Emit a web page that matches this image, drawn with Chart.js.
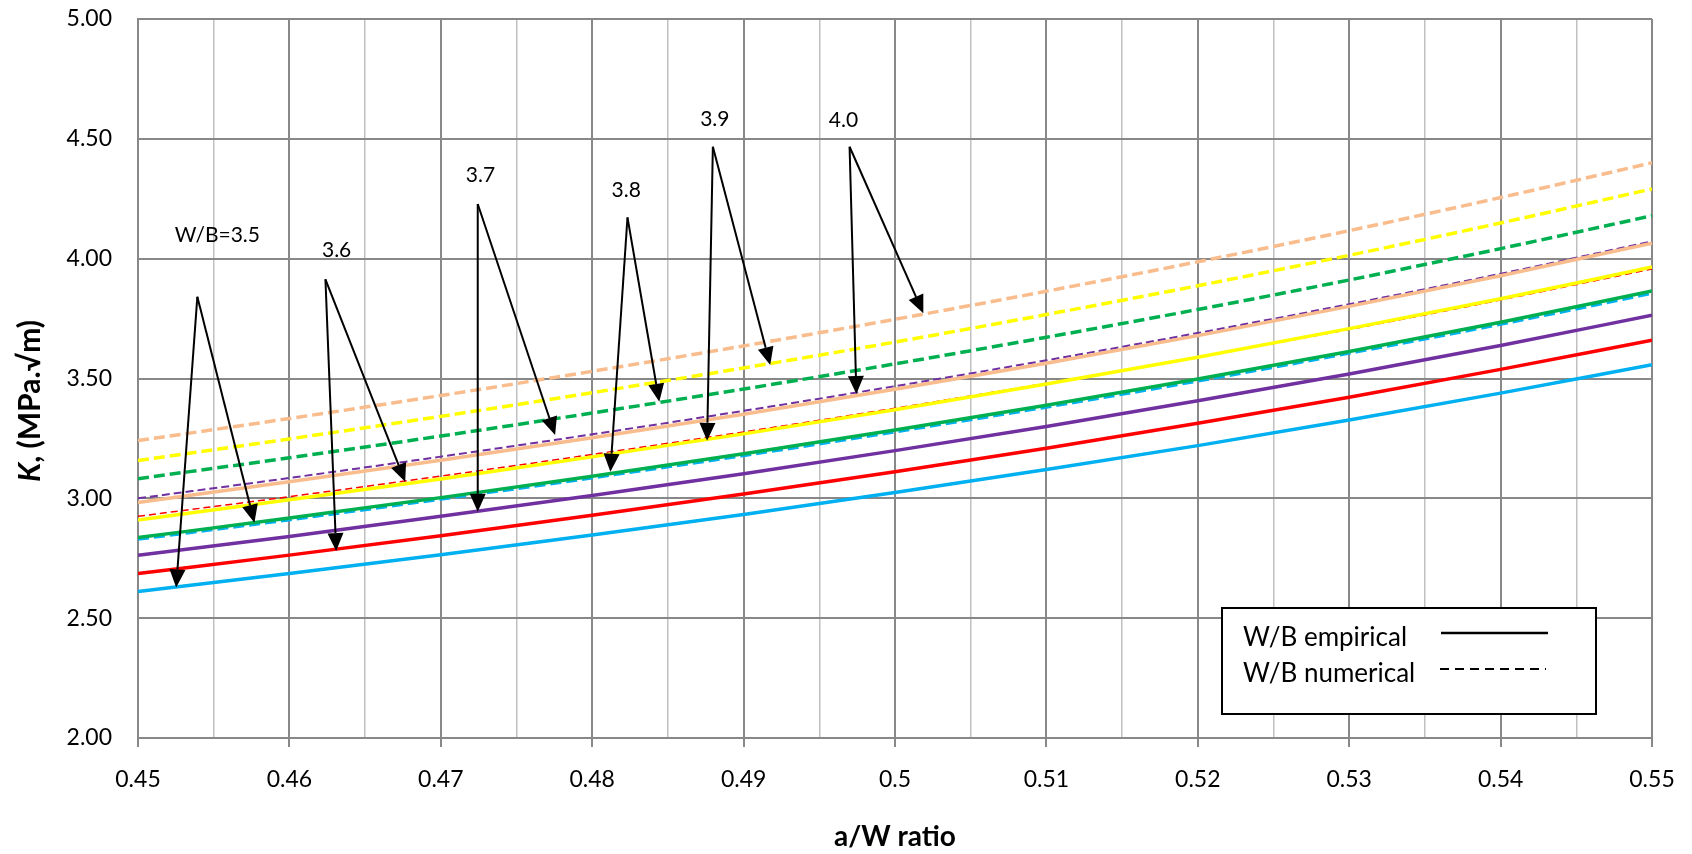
<!DOCTYPE html>
<html>
<head>
<meta charset="utf-8">
<script src="https://cdn.jsdelivr.net/npm/chart.js@4.4.1/dist/chart.umd.min.js"></script>
<style>
  html, body { margin: 0; padding: 0; background: #fff; }
  #wrap { width: 1692px; height: 854px; position: relative; }
</style>
</head>
<body>
<div id="wrap"><canvas id="kChart"></canvas></div>
<script>
// a/W ratio (x)
const awRatio = [0.45, 0.46, 0.47, 0.48, 0.49, 0.50, 0.51, 0.52, 0.53, 0.54, 0.55];

// K, MPa.√m - empirical (solid)
const emp35 = [2.611, 2.686, 2.765, 2.847, 2.933, 3.024, 3.120, 3.220, 3.327, 3.439, 3.558];
const emp36 = [2.686, 2.763, 2.844, 2.929, 3.018, 3.111, 3.209, 3.313, 3.422, 3.538, 3.660];
const emp37 = [2.762, 2.841, 2.925, 3.012, 3.103, 3.199, 3.300, 3.407, 3.519, 3.638, 3.764];
const emp38 = [2.836, 2.918, 3.003, 3.092, 3.186, 3.285, 3.388, 3.498, 3.613, 3.735, 3.865];
const emp39 = [2.910, 2.994, 3.081, 3.173, 3.269, 3.370, 3.477, 3.589, 3.708, 3.833, 3.965];
const emp40 = [2.983, 3.069, 3.159, 3.253, 3.351, 3.455, 3.564, 3.679, 3.801, 3.929, 4.065];

// numerical (dashed)
const num35 = [2.830, 2.911, 2.997, 3.086, 3.179, 3.278, 3.381, 3.490, 3.606, 3.727, 3.856];
const num36 = [2.925, 3.007, 3.093, 3.183, 3.277, 3.376, 3.480, 3.590, 3.705, 3.828, 3.957];
const num37 = [3.000, 3.085, 3.174, 3.267, 3.365, 3.468, 3.576, 3.690, 3.810, 3.937, 4.072];
const num38 = [3.082, 3.169, 3.260, 3.356, 3.456, 3.561, 3.672, 3.788, 3.911, 4.042, 4.179];
const num39 = [3.158, 3.248, 3.342, 3.441, 3.544, 3.652, 3.767, 3.887, 4.014, 4.149, 4.291];
const num40 = [3.241, 3.333, 3.429, 3.530, 3.636, 3.747, 3.864, 3.987, 4.117, 4.255, 4.400];

const wbRatios = ['3.5', '3.6', '3.7', '3.8', '3.9', '4.0'];

// callouts, in data units (a/W, K)
const calloutText = ['W/B=3.5', '3.6', '3.7', '3.8', '3.9', '4.0'];
const calloutTextAt = [[0.45524, 4.098], [0.46312, 4.034], [0.47262, 4.349], [0.48225, 4.284], [0.4881, 4.580], [0.4966, 4.577]];
const calloutApex = [[0.45392, 3.841], [0.46238, 3.914], [0.47244, 4.228], [0.48233, 4.172], [0.48797, 4.467], [0.4970, 4.467]];
const calloutTipEmp = [[0.45252, 2.628], [0.46309, 2.780], [0.47244, 2.944], [0.4812, 3.111], [0.48759, 3.240], [0.49745, 3.435]];
const calloutTipNum = [[0.45769, 2.898], [0.46765, 3.069], [0.47755, 3.264], [0.48443, 3.403], [0.49176, 3.556], [0.50187, 3.772]];

const colors = ['#00B0F0', '#FF0000', '#7030A0', '#00B050', '#FFFF00', '#F9BC8D'];
const numWidths = [3.5, 1.5, 2, 3.5, 3.5, 3.5];
const numDash = [[11, 5], [7, 4], [8, 4], [11, 5], [11, 5], [11, 5]];

const empSeries = [emp35, emp36, emp37, emp38, emp39, emp40];
const numSeries = [num35, num36, num37, num38, num39, num40];

function pts(arr) {
    return arr.map((v, i) => ({ x: awRatio[i], y: v }));
}

var datasets = [];
for (var i = 0; i < wbRatios.length; i++) {
    datasets.push({
        label: 'W/B=' + wbRatios[i] + ' empirical',
        data: pts(empSeries[i]),
        borderColor: colors[i],
        borderWidth: 3.5,
        pointRadius: 0,
        cubicInterpolationMode: 'monotone',
        order: 1
    });
    datasets.push({
        label: 'W/B=' + wbRatios[i] + ' numerical',
        data: pts(numSeries[i]),
        borderColor: colors[i],
        borderWidth: numWidths[i],
        borderDash: numDash[i],
        pointRadius: 0,
        cubicInterpolationMode: 'monotone',
        order: 2
    });
}

const MAJOR = '#888888';
const MINOR = '#C0C0C0';

function isMajor(v) {
    return Math.round(v * 200) % 2 === 0;
}

function arrow(ctx, x0, y0, x1, y1) {
    var a = Math.atan2(y1 - y0, x1 - x0);
    var len = 18, half = 8;
    var bx = x1 - len * Math.cos(a), by = y1 - len * Math.sin(a);
    ctx.beginPath();
    ctx.moveTo(x0, y0);
    ctx.lineTo(bx, by);
    ctx.stroke();
    ctx.beginPath();
    ctx.moveTo(x1, y1);
    ctx.lineTo(bx + half * Math.sin(a), by - half * Math.cos(a));
    ctx.lineTo(bx - half * Math.sin(a), by + half * Math.cos(a));
    ctx.closePath();
    ctx.fill();
}

const extras = {
    id: 'extras',
    afterDatasetsDraw(chart) {
        const ctx = chart.ctx, xs = chart.scales.x, ys = chart.scales.y;
        const px = p => [xs.getPixelForValue(p[0]), ys.getPixelForValue(p[1])];
        ctx.save();
        ctx.strokeStyle = '#000';
        ctx.fillStyle = '#000';
        ctx.lineWidth = 2;
        for (var i = 0; i < calloutText.length; i++) {
            var a = px(calloutApex[i]);
            var t1 = px(calloutTipEmp[i]);
            var t2 = px(calloutTipNum[i]);
            arrow(ctx, a[0], a[1], t1[0], t1[1]);
            arrow(ctx, a[0], a[1], t2[0], t2[1]);
            var tp = px(calloutTextAt[i]);
            ctx.font = '21px Lato';
            ctx.textAlign = 'center';
            ctx.textBaseline = 'middle';
            ctx.fillText(calloutText[i], tp[0], tp[1]);
        }
        ctx.restore();
    },
    afterDraw(chart) {
        const ctx = chart.ctx, area = chart.chartArea;
        ctx.save();
        ctx.fillStyle = '#000';
        // x title
        ctx.font = 'bold 28px Lato';
        ctx.textAlign = 'center';
        ctx.textBaseline = 'middle';
        ctx.fillText('a/W ratio', (area.left + area.right) / 2, 837);
        // y title, K in italic
        ctx.translate(30, 401);
        ctx.rotate(-Math.PI / 2);
        var p1 = 'K', p2 = ', (MPa.√m)';
        ctx.font = 'italic bold 30px Lato';
        var w1 = ctx.measureText(p1).width;
        ctx.font = 'bold 30px Lato';
        var w2 = ctx.measureText(p2).width;
        var sx = -(w1 + w2) / 2;
        ctx.textAlign = 'left';
        ctx.font = 'italic bold 30px Lato';
        ctx.fillText(p1, sx, 0);
        ctx.font = 'bold 30px Lato';
        ctx.fillText(p2, sx + w1, 0);
        ctx.restore();

        // legend box
        ctx.save();
        ctx.fillStyle = '#fff';
        ctx.fillRect(1222, 608, 374, 106);
        ctx.strokeStyle = '#000';
        ctx.lineWidth = 2;
        ctx.strokeRect(1222, 608, 374, 106);
        ctx.fillStyle = '#000';
        ctx.font = '26px Lato';
        ctx.textAlign = 'left';
        ctx.textBaseline = 'middle';
        ctx.fillText('W/B empirical', 1243, 638);
        ctx.fillText('W/B numerical', 1243, 674);
        ctx.lineWidth = 2.5;
        ctx.beginPath();
        ctx.moveTo(1441, 633);
        ctx.lineTo(1548, 633);
        ctx.stroke();
        ctx.lineWidth = 2;
        ctx.setLineDash([9, 6]);
        ctx.beginPath();
        ctx.moveTo(1440, 669);
        ctx.lineTo(1546, 669);
        ctx.stroke();
        ctx.restore();
    }
};

Chart.defaults.font.family = 'Lato';
Chart.defaults.color = '#000';

new Chart(document.getElementById('kChart'), {
    type: 'line',
    data: { datasets: datasets },
    options: {
        responsive: true,
        maintainAspectRatio: false,
        animation: false,
        events: [],
        layout: { padding: { top: 19, right: 40, left: 0, bottom: 0 } },
        plugins: {
            legend: { display: false },
            tooltip: { enabled: false }
        },
        scales: {
            x: {
                type: 'linear',
                min: 0.45,
                max: 0.55,
                afterFit: s => { s.height = 116; s.paddingLeft = 0; s.paddingRight = 0; },
                ticks: {
                    stepSize: 0.005,
                    autoSkip: false,
                    maxRotation: 0,
                    padding: 19,
                    font: { size: 23 },
                    callback: v => isMajor(v) ? String(Number(v.toFixed(2))) : ''
                },
                grid: {
                    color: c => isMajor(c.tick.value) ? MAJOR : MINOR,
                    tickColor: c => isMajor(c.tick.value) ? MAJOR : 'rgba(0,0,0,0)',
                    lineWidth: c => isMajor(c.tick.value) ? 2 : 1.5,
                    tickLength: 9
                },
                border: { color: MAJOR, width: 2 }
            },
            y: {
                min: 2,
                max: 5,
                afterFit: s => { s.width = 138; s.paddingTop = 0; s.paddingBottom = 0; },
                ticks: {
                    stepSize: 0.5,
                    padding: 26,
                    font: { size: 23 },
                    callback: v => v.toFixed(2)
                },
                grid: { color: MAJOR, lineWidth: 2, drawTicks: false },
                border: { color: MAJOR, width: 2 }
            }
        }
    },
    plugins: [extras]
});
</script>
</body>
</html>
